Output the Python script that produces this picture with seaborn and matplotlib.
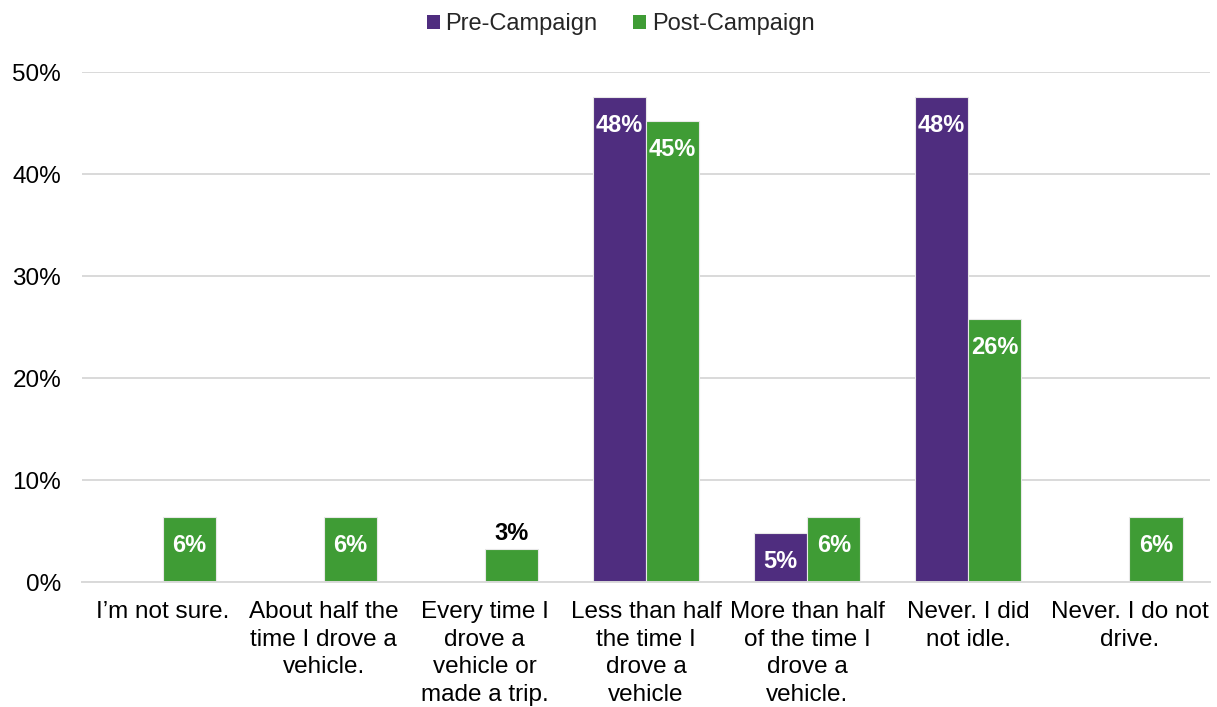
import matplotlib
matplotlib.use("Agg")
import matplotlib.pyplot as plt
import seaborn as sns
import pandas as pd
from matplotlib.patches import Patch

# Survey answers (x categories)
categories = [
    "I\u2019m not sure.",
    "About half the\ntime I drove a\nvehicle.",
    "Every time I\ndrove a\nvehicle or\nmade a trip.",
    "Less than half\nthe time I\ndrove a\nvehicle",
    "More than half\nof the time I\ndrove a\nvehicle.",
    "Never. I did\nnot idle.",
    "Never. I do not\ndrive.",
]
series = ["Pre-Campaign", "Post-Campaign"]
pre_values = [0.0, 0.0, 0.0, 47.6, 4.8, 47.6, 0.0]
post_values = [6.4, 6.4, 3.2, 45.2, 6.4, 25.8, 6.4]
y_ticks = [0, 10, 20, 30, 40, 50]
colors = {"Pre-Campaign": "#4F2D7F", "Post-Campaign": "#3F9C35"}

df = pd.DataFrame({
    "Response": categories * 2,
    "Survey": [series[0]] * len(categories) + [series[1]] * len(categories),
    "Percent": pre_values + post_values,
})

sns.set_theme(style="white")
plt.rcParams["font.family"] = ["Liberation Sans", "DejaVu Sans"]

fig = plt.figure(figsize=(12.17, 7.07), dpi=100)
ax = fig.add_axes([0.0674, 0.1768, 0.9268, 0.7213])

sns.barplot(data=df, x="Response", y="Percent", hue="Survey",
            hue_order=series, order=categories, palette=colors,
            saturation=1, width=0.66, edgecolor="#e8e8e8", linewidth=0.8,
            legend=False, ax=ax)

# Value labels: inside the bar top in white, above the bar for short bars
for container, values in zip(ax.containers, [pre_values, post_values]):
    for bar, v in zip(container, values):
        if v <= 0:
            continue
        x = bar.get_x() + bar.get_width() / 2
        label = f"{v:.0f}%"
        if v < 4:
            ax.annotate(label, (x, v), xytext=(0, 3), textcoords="offset points",
                        ha="center", va="bottom", fontsize=17,
                        fontweight="bold", color="black")
        else:
            ax.annotate(label, (x, v), xytext=(0, -12.5), textcoords="offset points",
                        ha="center", va="top", fontsize=17,
                        fontweight="bold", color="white")

ax.set_ylim(0, 50)
ax.set_yticks(y_ticks)
ax.set_yticklabels([f"{t}%" for t in y_ticks])
ax.set_xlim(-0.5, len(categories) - 0.5)
ax.set_xlabel("")
ax.set_ylabel("")
ax.yaxis.grid(True, color="#D9D9D9", linewidth=1.4)
ax.set_axisbelow(True)
for side in ["left", "right", "top"]:
    ax.spines[side].set_visible(False)
ax.spines["bottom"].set_color("#D9D9D9")
ax.spines["bottom"].set_linewidth(1.4)
ax.tick_params(axis="y", length=0, pad=15, labelsize=17.5, labelcolor="black")
ax.tick_params(axis="x", length=0, pad=13.5, labelsize=17.5, labelcolor="black")
for lbl in ax.get_xticklabels():
    lbl.set_linespacing(1.34)

handles = [Patch(facecolor=colors[s], edgecolor="none", label=s) for s in series]
fig.legend(handles=handles, loc="center", bbox_to_anchor=(0.51, 0.966),
           ncol=2, frameon=False, fontsize=17, handlelength=0.55,
           handleheight=0.55, handletextpad=0.25, columnspacing=1.5)

fig.savefig("out.png", dpi=100, facecolor="white")
